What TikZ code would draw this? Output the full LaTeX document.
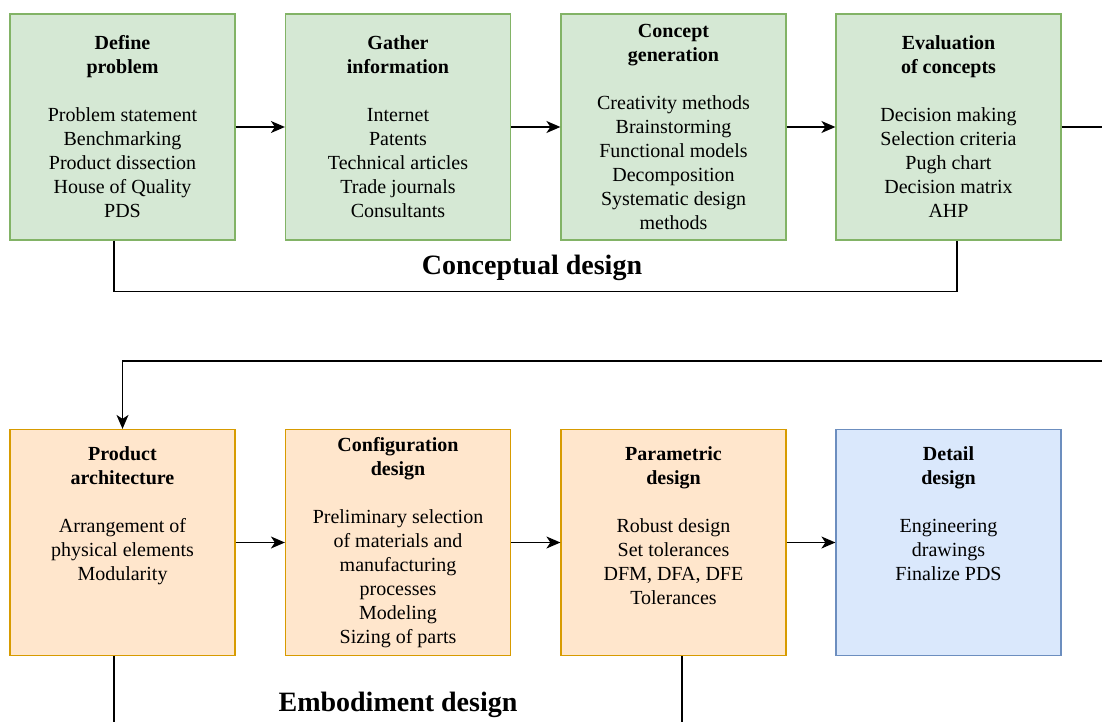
\documentclass[tikz,border=0pt]{standalone}
\usepackage{fontspec}
\setmainfont{Liberation Serif}
\newfontfamily\stageface{Liberation Serif}
\usetikzlibrary{positioning,calc,arrows.meta}
\tikzset{>={Stealth[length=14pt,width=12pt,inset=4pt]}}
\definecolor{concfill}{HTML}{D5E8D4}
\definecolor{concline}{HTML}{82B366}
\definecolor{embfill}{HTML}{FFE6CC}
\definecolor{embline}{HTML}{D79B00}
\definecolor{detfill}{HTML}{DAE8FC}
\definecolor{detline}{HTML}{6C8EBF}
\tikzset{
  stage/.style={draw,line width=1.2pt,minimum width=225pt,minimum height=226pt,inner sep=0pt},
  conc/.style={stage,fill=concfill,draw=concline},
  emb/.style={stage,fill=embfill,draw=embline},
  det/.style={stage,fill=detfill,draw=detline},
  stagetext/.style={align=center,inner sep=0pt,font=\stageface\fontsize{20}{24}\selectfont},
  phase/.style={inner sep=0pt,font=\stageface\fontsize{28}{32}\selectfont\bfseries},
  link/.style={line width=1.5pt},
}

\begin{document}
\begin{tikzpicture}[x=1pt,y=-1pt]
\useasboundingbox (0,0) rectangle (1102,722);
% conceptual design row
\node[conc] (define) at (122.5,127) {};
\node[conc] (gather) at (398,127) {};
\node[conc] (concept) at (673.5,127) {};
\node[conc] (evaluate) at (948.5,127) {};
\node[stagetext] (definetxt) at (define) {\textbf{Define}\\\textbf{problem}\\[24pt]Problem statement\\Benchmarking\\Product dissection\\House of Quality\\PDS};
\node[stagetext] (gathertxt) at (gather) {\textbf{Gather}\\\textbf{information}\\[24pt]Internet\\Patents\\Technical articles\\Trade journals\\Consultants};
\node[stagetext] (concepttxt) at (concept) {\textbf{Concept}\\\textbf{generation}\\[24pt]Creativity methods\\Brainstorming\\Functional models\\Decomposition\\Systematic design\\methods};
\node[stagetext] (evaluatetxt) at (evaluate) {\textbf{Evaluation}\\\textbf{of concepts}\\[24pt]Decision making\\Selection criteria\\Pugh chart\\Decision matrix\\AHP};
% embodiment and detail row
\node[emb] (arch) at (122.5,542.5) {};
\node[emb] (config) at (398,542.5) {};
\node[emb] (param) at (673.5,542.5) {};
\node[det] (detail) at (948.5,542.5) {};
\node[stagetext,anchor=north] (archtxt) at ([yshift=-18pt]arch.north) {\textbf{Product}\\\textbf{architecture}\\[24pt]Arrangement of\\physical elements\\Modularity};
\node[stagetext] (configtxt) at (config) {\textbf{Configuration}\\\textbf{design}\\[24pt]Preliminary selection\\of materials and\\manufacturing\\processes\\Modeling\\Sizing of parts};
\node[stagetext,anchor=north] (paramtxt) at ([yshift=-18pt]param.north) {\textbf{Parametric}\\\textbf{design}\\[24pt]Robust design\\Set tolerances\\DFM, DFA, DFE\\Tolerances};
\node[stagetext,anchor=north] (detailtxt) at ([yshift=-18pt]detail.north) {\textbf{Detail}\\\textbf{design}\\[24pt]Engineering\\drawings\\Finalize PDS};
% phase labels
\node[phase] (conclabel) at (532,268) {Conceptual design};
\node[phase] (emblabel) at (398,705) {Embodiment design};
\coordinate (outtop) at (1102,127);
\coordinate (inbottom) at (1102,361);
% flow
\draw[link,->] (define) -- (gather);
\draw[link,->] (gather) -- (concept);
\draw[link,->] (concept) -- (evaluate);
\draw[link] (evaluate) -- (outtop);
\draw[link,->] (inbottom) -| (arch);
\draw[link,->] (arch) -- (config);
\draw[link,->] (config) -- (param);
\draw[link,->] (param) -- (detail);
% phase brackets
\draw[link] ([xshift=-8.5pt]define.south) -- ++(0,51) -| ([xshift=8.5pt]evaluate.south);
\draw[link] ([xshift=-8.5pt]arch.south) -- ++(0,70);
\draw[link] ([xshift=8.5pt]param.south) -- ++(0,70);
\end{tikzpicture}
\end{document}
